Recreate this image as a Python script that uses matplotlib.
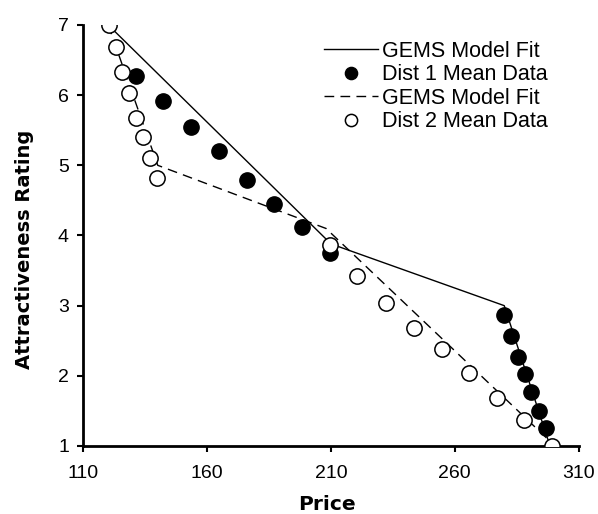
import numpy as np
import matplotlib
matplotlib.use('Agg')
from matplotlib import pyplot as plt

# mean data
d1_price = [131.3, 142.2, 153.5, 164.9, 176.2, 187.1, 198.4, 209.8,
            279.7, 282.7, 285.6, 288.3, 291.0, 293.9, 296.8]
d1_rating = [6.27, 5.92, 5.55, 5.20, 4.79, 4.45, 4.12, 3.75,
             2.87, 2.57, 2.27, 2.02, 1.77, 1.50, 1.25]

d2_price = [120.3, 123.2, 125.6, 128.4, 131.3, 134.1, 136.9, 139.8,
            209.8, 220.6, 232.1, 243.5, 254.7, 265.8, 277.0, 288.1, 299.1]
d2_rating = [7.00, 6.69, 6.33, 6.03, 5.67, 5.40, 5.10, 4.82,
             3.86, 3.42, 3.04, 2.68, 2.38, 2.04, 1.69, 1.37, 1.00]

# GEMS model fits (piecewise linear)
fit1_price = [120, 210, 280, 298.5]
fit1_rating = [7.0, 3.88, 3.0, 1.0]
fit2_price = [120, 140, 208, 300.5]
fit2_rating = [7.0, 5.0, 4.1, 1.0]

xticks = [110, 160, 210, 260, 310]
yticks = [1, 2, 3, 4, 5, 6, 7]

plt.rcParams['font.family'] = ['Liberation Sans', 'DejaVu Sans']

fig = plt.figure(figsize=(5.98, 5.14), dpi=100)
ax = fig.add_axes([0.1396, 0.1323, 0.8278, 0.8191])

ax.plot(fit1_price, fit1_rating, color='k', lw=1.0, label='GEMS Model Fit', zorder=2)
ax.plot(d1_price, d1_rating, 'o', ms=11, mfc='k', mec='k', mew=1.0,
        label='Dist 1 Mean Data', zorder=3)
ax.plot(fit2_price, fit2_rating, color='k', lw=1.0, ls=(0, (7, 4.5)),
        label='GEMS Model Fit', zorder=2)
ax.plot(d2_price, d2_rating, 'o', ms=11, mfc='white', mec='k', mew=1.1,
        label='Dist 2 Mean Data', zorder=4)

ax.set_xlim(110, 310)
ax.set_ylim(1, 7)
ax.set_xticks(xticks)
ax.set_yticks(yticks)
ax.spines['top'].set_visible(False)
ax.spines['right'].set_visible(False)
ax.spines['left'].set_linewidth(2)
ax.spines['bottom'].set_linewidth(2)
ax.tick_params(direction='out', length=4, width=1.5, labelsize=14)
ax.tick_params(axis='x', pad=10)
ax.tick_params(axis='y', pad=6.5)

ax.set_xlabel('Price', fontsize=14.5, fontweight='bold', family='DejaVu Sans')
ax.set_ylabel('Attractiveness Rating', fontsize=14, fontweight='bold',
              family='DejaVu Sans')
ax.xaxis.set_label_coords(0.492, -0.117)
ax.yaxis.set_label_coords(-0.100, 0.468)

leg = ax.legend(loc='upper left', bbox_to_anchor=(0.486, 0.963), frameon=False,
                fontsize=15.5, markerscale=0.8, handlelength=2.5,
                handletextpad=0.2, labelspacing=0.12, borderaxespad=0.0,
                borderpad=0.0)

fig.savefig('out.png', dpi=100)
